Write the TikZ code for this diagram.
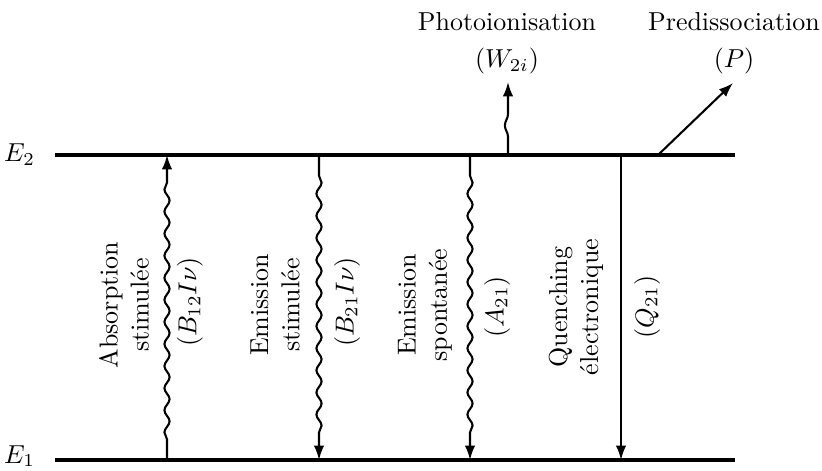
\documentclass[tikz,border=0pt]{standalone}
\usepackage{amsmath}
\usepackage{tikz}
\usetikzlibrary{arrows.meta,decorations.pathmorphing}
\usetikzlibrary{positioning}

\begin{document}
\begin{tikzpicture}[x=0.385pt,y=-0.385pt,thick,
		level/.style = {line width=1.4pt},
		tip/.style = {-{Latex[length=5.5pt,width=4pt]}},
		wave/.style = {tip,decorate,decoration={snake,amplitude=1pt,segment length=8.5pt,pre length=8pt,post length=8pt}},
		lbl/.style = {rotate=90,align=center,inner sep=1pt}]
		\useasboundingbox (0,0) rectangle (822,470);
		
		% niveaux
		\coordinate (Ha) at (55,155);
		\coordinate (Hb) at (735,155);
		\coordinate (La) at (55,460);
		\coordinate (Lb) at (735,460);
		\draw[level] (Ha) -- (Hb);
		\draw[level] (La) -- (Lb);
		\node (E2) [left=4pt of Ha] {$E_2$};
		\node (E1) [left=4pt of La, yshift=1.5pt] {$E_1$};
		
		% transitions
		\coordinate (abs1) at (167,460);  \coordinate (abs2) at (167,155);
		\coordinate (sti2) at (319,155);  \coordinate (sti1) at (319,460);
		\coordinate (spo2) at (470,155);  \coordinate (spo1) at (470,460);
		\coordinate (que2) at (621,155);  \coordinate (que1) at (621,460);
		\coordinate (pho2) at (508,155);  \coordinate (phoE) at (508,82);
		\coordinate (pre2) at (658,155);  \coordinate (preE) at (733,83);
		
		\draw[wave] (abs1) -- (abs2);
		\draw[wave] (sti2) -- (sti1);
		\draw[wave] (spo2) -- (spo1);
		\draw[tip] (que2) -- (que1);
		\draw[tip,decorate,decoration={snake,amplitude=1.2pt,segment length=14pt,pre length=7pt,post length=7pt}] (pho2) -- (phoE);
		\draw[tip] (pre2) -- (preE);
		
		% etiquettes
		\node[lbl] (absT) at (124,305) {Absorption\\stimulée};
		\node[lbl] (absR) at (190,302) {$(B_{12}I\nu)$};
		\node[lbl] (stiT) at (275,305) {Emission\\stimulée};
		\node[lbl] (stiR) at (347,302) {$(B_{21}I\nu)$};
		\node[lbl] (spoT) at (425,305) {Emission\\spontanée};
		\node[lbl] (spoR) at (497,307) {$(A_{21})$};
		\node[lbl] (queT) at (576,307) {Quenching\\électronique};
		\node[lbl] (queR) at (647,307) {$(Q_{21})$};
		
		\node (phoT) at (507,22) {Photoionisation};
		\node (phoR) [below=-1pt of phoT] {$(W_{2i})$};
		\node (preT) at (734,22) {Predissociation};
		\node (preR) [below=-1pt of preT] {$(P)$};
	\end{tikzpicture}
\end{document}
